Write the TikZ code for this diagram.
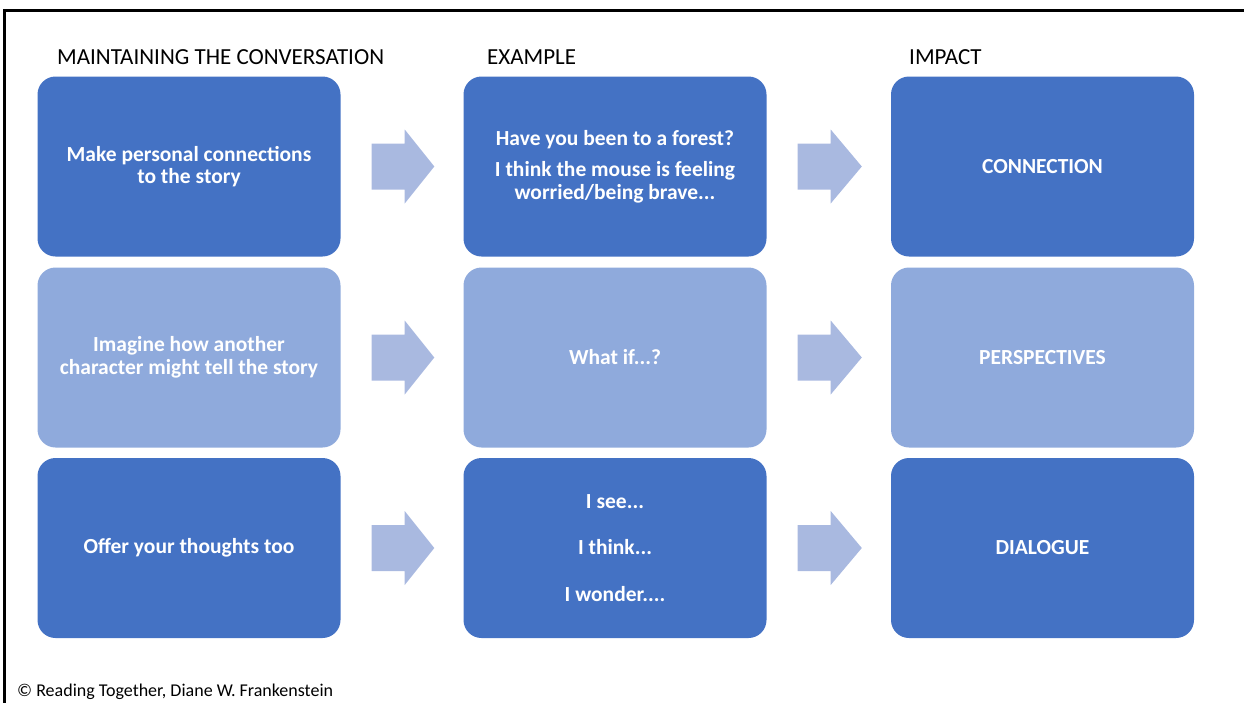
\documentclass[tikz,border=0pt]{standalone}
\usepackage{fontspec}
\setmainfont{Carlito}
\usetikzlibrary{calc}

\definecolor{boxdark}{HTML}{4472C4}
\definecolor{boxlight}{HTML}{8FAADC}
\definecolor{flowcol}{HTML}{A9B9E0}

% block arrow in the gap between two boxes
\newcommand{\flowarrow}[2]{%
    \fill[flow] ($(#1.east)+(31,-23)$) -- ($(#1.east)+(64,-23)$) -- ($(#1.east)+(64,-37)$)
        -- ($(#2.west)+(-29,0)$)
        -- ($(#1.east)+(64,37)$) -- ($(#1.east)+(64,23)$) -- ($(#1.east)+(31,23)$) -- cycle;}

\begin{document}
\begin{tikzpicture}[x=1pt,y=-1pt,
    box/.style={rounded corners=18pt, minimum width=303pt, minimum height=180pt,
        align=center, text=white, font=\fontsize{21.5}{22.5}\selectfont\bfseries},
    head/.style={anchor=base west, inner sep=0pt, font=\fontsize{23}{26}\selectfont},
    flow/.style={fill=flowcol}]
    \useasboundingbox (0,0) rectangle (1244,702);
    \draw[line width=3pt] (4,720) -- (4,10) -- (1260,10);

    \node[head] (h-l) at (57,64) {MAINTAINING THE CONVERSATION};
    \node[head] (h-m) at (487,64) {EXAMPLE};
    \node[head] (h-r) at (909,64) {IMPACT};

    \foreach[count=\i] \rowy/\rowcol/\ltxt/\mtxt/\rtxt in {
        166.5/boxdark/{Make personal connections\\to the story}/{Have you been to a forest?\\[9pt]I think the mouse is feeling\\worried/being brave...}/CONNECTION,
        357.5/boxlight/{Imagine how another\\character might tell the story}/{What if...?}/PERSPECTIVES,
        548/boxdark/{Offer your thoughts too}/{I see...\\[24pt]I think...\\[24pt]I wonder....}/DIALOGUE} {
        \node[box, fill=\rowcol] (l-\i) at (189,\rowy) {\ltxt};
        \node[box, fill=\rowcol] (m-\i) at (615,\rowy) {\mtxt};
        \node[box, fill=\rowcol] (r-\i) at (1042.5,\rowy) {\rtxt};
        \flowarrow{l-\i}{m-\i}
        \flowarrow{m-\i}{r-\i}
    }

    \node[anchor=base west, inner sep=0pt, font=\fontsize{18}{20}\selectfont] (credit) at (17,696)
        {© Reading Together, Diane W. Frankenstein};
\end{tikzpicture}
\end{document}
